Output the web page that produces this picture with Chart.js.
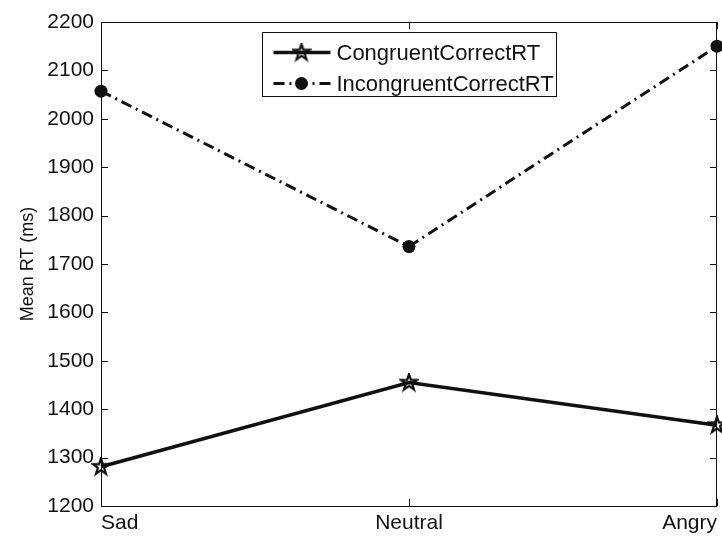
<!DOCTYPE html>
<html>
<head>
<meta charset="utf-8">
<script src="https://cdn.jsdelivr.net/npm/chart.js@4.4.1/dist/chart.umd.min.js"></script>
<style>
html,body{margin:0;padding:0;background:#fff;}
#wrap{width:722px;height:538px;}
</style>
</head>
<body>
<div id="wrap"><canvas id="c" width="722" height="538"></canvas></div>
<script>
const categories = ['Sad', 'Neutral', 'Angry'];
const congruentCorrectRT = [1281, 1455, 1367];
const incongruentCorrectRT = [2057, 1736, 2150];
const yTicks = [1200, 1300, 1400, 1500, 1600, 1700, 1800, 1900, 2000, 2100, 2200];
const seriesLabels = ['CongruentCorrectRT', 'IncongruentCorrectRT'];
const yTitle = 'Mean RT (ms)';

const FONT = "'Liberation Sans', Arial, sans-serif";
const INK = '#111';

function makePentagram(size, r, lw) {
  const cv = document.createElement('canvas');
  cv.width = size; cv.height = size;
  const g = cv.getContext('2d');
  const cx = size / 2, cy = size / 2, ri = r * 0.382;
  g.beginPath();
  for (let i = 0; i < 10; i++) {
    const rad = i % 2 === 0 ? r : ri;
    const a = -Math.PI / 2 + i * Math.PI / 5;
    const x = cx + rad * Math.cos(a), y = cy + rad * Math.sin(a);
    if (i === 0) g.moveTo(x, y); else g.lineTo(x, y);
  }
  g.closePath();
  g.lineJoin = 'miter';
  g.lineWidth = lw;
  g.strokeStyle = INK;
  g.stroke();
  return cv;
}
const starImg = makePentagram(20, 8.5, 2.2);
const DASHDOT = [11, 5, 2, 5];

const framePlugin = {
  id: 'frame',
  beforeDatasetsDraw(chart) {
    const {ctx, chartArea: a, scales} = chart;
    ctx.save();
    ctx.strokeStyle = INK;
    ctx.lineWidth = 1;
    ctx.strokeRect(a.left + 0.5, a.top + 0.5, a.right - a.left - 1, a.bottom - a.top);
    const tl = 7;
    ctx.beginPath();
    scales.y.ticks.forEach(t => {
      const y = Math.round(scales.y.getPixelForValue(t.value)) + 0.5;
      ctx.moveTo(a.left, y); ctx.lineTo(a.left + tl, y);
      ctx.moveTo(a.right, y); ctx.lineTo(a.right - tl, y);
    });
    scales.x.ticks.forEach((t, i) => {
      const x = Math.round(scales.x.getPixelForTick(i)) + 0.5;
      ctx.moveTo(x, a.bottom); ctx.lineTo(x, a.bottom - tl);
      ctx.moveTo(x, a.top); ctx.lineTo(x, a.top + tl);
    });
    ctx.stroke();
    ctx.restore();
  }
};

const legendPlugin = {
  id: 'boxLegend',
  afterDraw(chart) {
    const {ctx, chartArea: a} = chart;
    const w = 294, h = 64;
    const cx = (a.left + a.right) / 2;
    const x0 = Math.round(cx - w / 2) + 0.5, y0 = a.top + 10.5;
    ctx.save();
    ctx.fillStyle = '#fff';
    ctx.fillRect(x0, y0, w, h);
    ctx.strokeStyle = INK;
    ctx.lineWidth = 1;
    ctx.strokeRect(x0, y0, w, h);
    ctx.font = '22px ' + FONT;
    ctx.textBaseline = 'middle';
    ctx.fillStyle = INK;
    chart.data.datasets.forEach((ds, i) => {
      const y = y0 + 20 + i * 31;
      const lx1 = x0 + 11, lx2 = x0 + 68, mx = x0 + 39;
      ctx.beginPath();
      ctx.setLineDash(ds.borderDash || []);
      ctx.lineWidth = ds.borderWidth;
      ctx.strokeStyle = ds.borderColor;
      ctx.moveTo(lx1, y); ctx.lineTo(lx2, y);
      ctx.stroke();
      ctx.setLineDash([]);
      if (ds.pointStyle === 'circle') {
        ctx.beginPath();
        ctx.arc(mx, y, ds.pointRadius, 0, Math.PI * 2);
        ctx.fillStyle = ds.pointBackgroundColor;
        ctx.fill();
      } else {
        ctx.drawImage(ds.pointStyle, mx - ds.pointStyle.width / 2, y - ds.pointStyle.height / 2);
      }
      ctx.fillStyle = INK;
      ctx.fillText(ds.label, x0 + 74, y + 1);
    });
    ctx.restore();
  }
};

new Chart(document.getElementById('c'), {
  type: 'line',
  data: {
    labels: categories,
    datasets: [
      {
        label: seriesLabels[0],
        data: congruentCorrectRT,
        borderColor: INK,
        borderWidth: 3.5,
        pointStyle: starImg,
        pointRadius: 8,
        pointBackgroundColor: INK,
        pointBorderColor: INK,
        tension: 0,
        clip: false
      },
      {
        label: seriesLabels[1],
        data: incongruentCorrectRT,
        borderColor: INK,
        borderWidth: 3,
        borderDash: DASHDOT,
        pointStyle: 'circle',
        pointRadius: 6.5,
        pointBorderWidth: 0,
        pointBackgroundColor: INK,
        pointBorderColor: INK,
        tension: 0,
        clip: false
      }
    ]
  },
  options: {
    responsive: false,
    animation: false,
    devicePixelRatio: 1,
    layout: {autoPadding: false, padding: {top: 22, right: 5, left: 0, bottom: 0}},
    plugins: {legend: {display: false}, tooltip: {enabled: false}},
    scales: {
      x: {
        type: 'category',
        offset: false,
        grid: {display: false, drawTicks: false, tickLength: 0},
        border: {display: false},
        ticks: {
          align: 'inner',
          color: INK,
          padding: 5,
          maxRotation: 0,
          font: {family: FONT, size: 21}
        },
        afterFit(s) { s.height = 32; s.paddingLeft = 0; s.paddingRight = 0; }
      },
      y: {
        min: 1200,
        max: 2200,
        grid: {display: false, drawTicks: false, tickLength: 0},
        border: {display: false},
        afterBuildTicks(s) { s.ticks = yTicks.map(v => ({value: v})); },
        ticks: {
          color: INK,
          padding: 7,
          font: {family: FONT, size: 21},
          callback: v => String(v)
        },
        title: {
          display: true,
          text: yTitle,
          color: INK,
          padding: {top: 17, bottom: 0},
          font: {family: FONT, size: 18}
        },
        afterFit(s) { s.width = 101; s.paddingTop = 0; s.paddingBottom = 0; }
      }
    }
  },
  plugins: [framePlugin, legendPlugin]
});
</script>
</body>
</html>
